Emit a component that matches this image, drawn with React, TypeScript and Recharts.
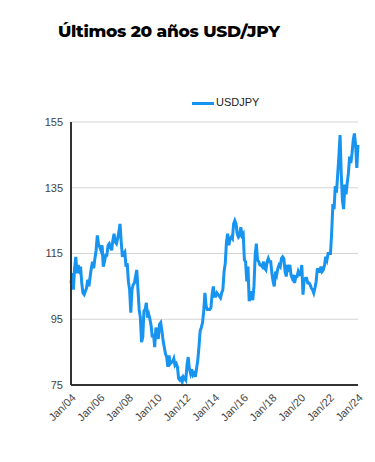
import { LineChart, Line, XAxis, YAxis, CartesianGrid, Legend } from "recharts";

// USD/JPY month-end, Jan 2004 .. Jan 2024
const y2004 = [106, 109, 104, 110.5, 114, 109, 111.5, 110, 111, 106, 103, 102.5];
const y2005 = [103.5, 104.5, 107, 105, 108, 110.5, 112.5, 110.5, 113.5, 116, 120.5, 117.8];
const y2006 = [117, 116, 117.5, 111, 112.5, 114.5, 114.5, 117.5, 118, 117, 116, 119];
const y2007 = [121, 118.5, 118, 119.5, 121.5, 124, 118.5, 114, 115, 115.5, 111, 112];
const y2008 = [106.5, 104, 97, 104, 105.5, 106, 108, 110, 104, 98, 95.5, 88];
const y2009 = [89.5, 97.5, 98, 100, 95.5, 96.5, 95, 93, 89.5, 90.5, 86.5, 92.5];
const y2010 = [90.5, 89, 93.5, 94, 91.5, 88.5, 86.5, 84.5, 83.5, 80.5, 84, 81.5];
const y2011 = [82, 82, 83, 81, 81.5, 80.5, 77, 76.5, 77, 76, 77.5, 77];
const y2012 = [76.5, 81, 83.5, 80, 78.5, 79.8, 78, 78.5, 77.5, 80, 82.5, 86.5];
const y2013 = [91.5, 92.5, 94, 97.5, 103, 99, 98, 98, 98, 98.5, 102.5, 105];
const y2014 = [102, 102, 103, 102.5, 102, 101.5, 103, 104, 109.5, 112, 118.5, 121];
const y2015 = [117.5, 119.5, 120, 119.5, 124, 125, 124, 121, 120, 120.5, 123, 120.5];
const y2016 = [121, 113, 112.5, 106.5, 111, 100.5, 102, 103.5, 100.8, 105, 114.5, 118];
const y2017 = [113, 112.5, 111.5, 111.5, 111, 112.5, 110.5, 110, 112.5, 113.5, 112.5, 112.5];
const y2018 = [109, 106.5, 105, 109.5, 108.5, 110.5, 111.5, 111, 113.5, 114, 113.5, 109.5];
const y2019 = [108, 111.5, 110.5, 111.5, 108.5, 107.5, 108.5, 106, 108, 108, 109.5, 108.5];
const y2020 = [108.5, 111.5, 102.5, 107, 107.5, 107.5, 106, 106, 105.5, 104.5, 104, 103];
const y2021 = [104.5, 106.5, 110.5, 109.5, 109.5, 111, 109.5, 110, 111.5, 114, 113, 115];
const y2022 = [115, 115, 121.5, 130, 128.5, 135.5, 133.5, 139, 144.5, 151, 139, 131];
const y2023 = [128.5, 136, 133, 136.5, 139.5, 144.5, 142.5, 145.5, 149.5, 151.5, 148, 141];
const y2024 = [148];

const usdjpy = [
  ...y2004, ...y2005, ...y2006, ...y2007, ...y2008, ...y2009, ...y2010,
  ...y2011, ...y2012, ...y2013, ...y2014, ...y2015, ...y2016, ...y2017,
  ...y2018, ...y2019, ...y2020, ...y2021, ...y2022, ...y2023, ...y2024,
];

const yTicks = [75, 95, 115, 135, 155];

const data = usdjpy.map((v, i) => {
  const yr = 2004 + Math.floor(i / 12);
  const m = (i % 12) + 1;
  return { month: `${yr}-${String(m).padStart(2, "0")}`, USDJPY: v };
});

const fmtTick = (s: string) => {
  const [yr, m] = s.split("-");
  return m === "01" ? `Jan/${yr.slice(2)}` : "";
};

const renderLegend = () => (
  <div style={{ position: "relative", height: 14 }}>
    <div style={{ position: "absolute", left: 192, top: 6, width: 22, height: 3, background: "#1793f0" }} />
    <span
      style={{
        position: "absolute",
        left: 216,
        top: 0,
        fontFamily: "'Liberation Sans', Arial, sans-serif",
        fontSize: 11,
        color: "#222",
      }}
    >
      USDJPY
    </span>
  </div>
);

export default function App() {
  return (
    <div style={{ position: "absolute", left: 0, top: 0, width: 375, height: 462, background: "#fff" }}>
      <div
        style={{
          position: "absolute",
          left: 58,
          top: 21,
          fontFamily: "Montserrat, 'Open Sans', sans-serif",
          fontWeight: 800,
          fontSize: 17,
          letterSpacing: -0.3,
          color: "#000",
          whiteSpace: "nowrap",
        }}
      >
        Últimos 20 años USD/JPY
      </div>
      <LineChart
        width={375}
        height={462}
        data={data}
        margin={{ top: 108, right: 17, bottom: 17, left: 31 }}
      >
        <CartesianGrid vertical={false} stroke="#d4d4d4" />
        <XAxis
          dataKey="month"
          interval={23}
          tickFormatter={fmtTick}
          tickLine={false}
          axisLine={{ stroke: "#333", strokeWidth: 2 }}
          angle={-45}
          textAnchor="end"
          height={60}
          tick={{ fontSize: 11, fill: "#444", fontFamily: "'Liberation Sans', Arial, sans-serif" }}
        />
        <YAxis
          domain={[75, 155]}
          ticks={yTicks}
          width={40}
          tickLine={false}
          axisLine={{ stroke: "#333", strokeWidth: 2 }}
          tick={{ fontSize: 11, fill: "#444", fontFamily: "'Liberation Sans', Arial, sans-serif" }}
        />
        <Legend verticalAlign="top" content={renderLegend} wrapperStyle={{ top: 96, left: 0, width: 375 }} />
        <Line
          type="linear"
          dataKey="USDJPY"
          stroke="#1793f0"
          strokeWidth={3}
          dot={false}
          isAnimationActive={false}
        />
      </LineChart>
    </div>
  );
}
